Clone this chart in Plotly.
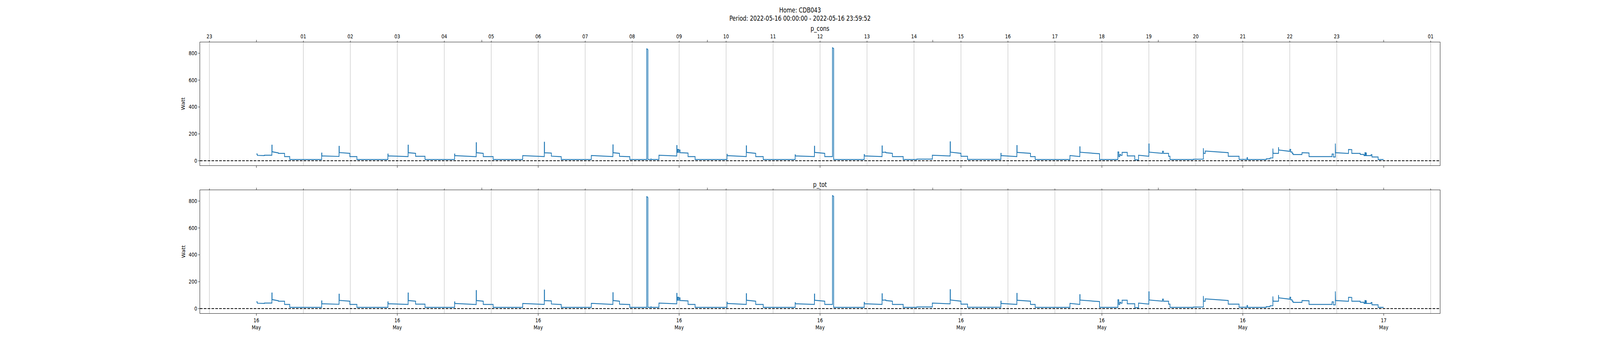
import pandas as pd
import plotly.graph_objects as go

# ---------------- data ----------------
day = "2022-05-16"
seg_hour = [0.000, 0.020, 0.170, 0.330, 0.335, 0.470, 0.600, 0.710, 1.390, 1.395,
            1.760, 1.765, 1.990, 2.140, 2.800, 2.805, 3.230, 3.235, 3.390, 3.590,
            4.220, 4.225, 4.680, 4.685, 4.830, 5.040, 5.670, 6.130, 6.135, 6.280,
            6.490, 7.130, 7.590, 7.595, 7.730, 7.950, 8.310, 8.335, 8.400, 8.405,
            8.570, 8.950, 8.955, 8.970, 8.990, 9.000, 9.020, 9.190, 9.340, 10.020,
            10.025, 10.430, 10.435, 10.630, 10.790, 11.470, 11.475, 11.880, 11.885, 12.100,
            12.265, 12.290, 12.940, 12.945, 13.320, 13.325, 13.400, 13.490, 13.540, 13.770,
            14.060, 14.390, 14.770, 14.775, 15.000, 15.140, 15.850, 15.855, 16.190, 16.195,
            16.480, 16.580, 17.320, 17.530, 17.535, 17.950, 18.340, 18.360, 18.380, 18.400,
            18.430, 18.540, 18.700, 18.780, 19.000, 19.005, 19.290, 19.310, 19.420, 19.450,
            19.950, 20.160, 20.165, 20.200, 20.690, 20.920, 21.090, 21.100, 21.500, 21.580,
            21.640, 21.645, 21.760, 21.765, 22.000, 22.020, 22.050, 22.070, 22.260, 22.410,
            22.900, 22.930, 22.970, 22.975, 23.250, 23.320, 23.500, 23.580, 23.600, 23.610,
            23.620, 23.630, 23.730, 23.750, 23.880]
seg_from = [50, 40, 41, 116, 67, 55, 31, 9, 57, 36,
            107, 61, 31, 9, 50, 36, 116, 60, 33, 9,
            50, 38, 134, 60, 31, 9, 38, 138, 59, 34,
            9, 39, 118, 60, 33, 9, 835, 9, 13, 9,
            41, 113, 62, 84, 62, 80, 60, 31, 9, 48,
            38, 111, 62, 31, 9, 44, 36, 108, 62, 31,
            841, 9, 46, 36, 110, 62, 60, 55, 31, 9,
            12, 41, 141, 64, 33, 10, 55, 38, 113, 62,
            31, 9, 39, 104, 63, 9, 65, 31, 46, 40,
            62, 36, 7, 41, 125, 64, 70, 55, 33, 9,
            11, 94, 55, 72, 33, 10, 23, 9, 14, 21,
            91, 55, 101, 80, 84, 65, 55, 46, 60, 31,
            50, 28, 128, 60, 84, 55, 47, 38, 60, 38,
            58, 38, 45, 28, 9]
seg_to = [50, 38, 41, 116, 58, 55, 31, 9, 57, 32,
          107, 55, 31, 9, 50, 31, 116, 55, 33, 9,
          50, 30, 134, 55, 31, 9, 31, 138, 57, 30,
          9, 31, 118, 55, 30, 9, 826, 9, 13, 9,
          35, 113, 62, 84, 62, 80, 57, 31, 9, 48,
          31, 111, 55, 31, 9, 44, 31, 108, 55, 31,
          835, 9, 46, 31, 110, 64, 57, 55, 31, 9,
          12, 35, 141, 55, 33, 10, 55, 31, 113, 55,
          31, 9, 31, 104, 52, 9, 65, 31, 46, 40,
          62, 36, 7, 33, 125, 55, 70, 55, 33, 9,
          12, 94, 55, 60, 33, 10, 23, 9, 14, 21,
          91, 55, 101, 70, 84, 65, 55, 46, 58, 31,
          50, 28, 128, 54, 83, 55, 47, 38, 60, 38,
          58, 38, 45, 28, 9]
end_hour = 23.9978  # 23:59:52

# p_tot is visually identical to p_cons in the reference
p_cons_from, p_cons_to = seg_from, seg_to
p_tot_from, p_tot_to = list(seg_from), list(seg_to)

bottom_tick_hours = [0, 3, 6, 9, 12, 15, 18, 21, 24]
bottom_tick_text = ["16<br>May"] * 8 + ["17<br>May"]
top_hour_ticks = [-1] + list(range(1, 24)) + [25]
top_hour_text = ["23"] + ["%02d" % h for h in range(1, 24)] + ["01"]
top_major_hours = [0, 4.8, 9.6, 14.4, 19.2, 24]

# ---------------- build ----------------
W, H = 5000, 900
base = pd.Timestamp(day)
def ts(h):
    return base + pd.to_timedelta(h, unit="h")

def build(froms, tos):
    xs, ys = [], []
    ends = seg_hour[1:] + [end_hour]
    for s, e, a, b in zip(seg_hour, ends, froms, tos):
        xs += [ts(s), ts(e)]
        ys += [a, b]
    return xs, ys

xr = [ts(-1.2), ts(end_hour + 1.2)]
FONT = "DejaVu Sans"
BLUE = "#1f77b4"

fig = go.Figure()
for i, (fr, to) in enumerate([(p_cons_from, p_cons_to), (p_tot_from, p_tot_to)]):
    xs, ys = build(fr, to)
    xa = "x" if i == 0 else "x3"
    ya = "y" if i == 0 else "y2"
    fig.add_trace(go.Scatter(x=xs, y=ys, mode="lines", line=dict(color=BLUE, width=2.2),
                             xaxis=xa, yaxis=ya, showlegend=False, hoverinfo="skip"))

tickfont = dict(family=FONT, size=14, color="black")
def bottom_axis(anchor, labels):
    return dict(domain=[0.125, 0.9], anchor=anchor, type="date", range=xr,
                tickmode="array", tickvals=[ts(h) for h in bottom_tick_hours],
                ticktext=bottom_tick_text if labels else [""] * len(bottom_tick_hours),
                ticks="outside", ticklen=5, tickwidth=1, tickcolor="black",
                showline=True, linecolor="black", linewidth=1, showgrid=False,
                zeroline=False, tickfont=tickfont)

def top_axis(over, anchor, labels):
    return dict(overlaying=over, side="top", anchor=anchor, type="date", range=xr,
                tickmode="array", tickvals=[ts(h) for h in top_hour_ticks],
                ticktext=top_hour_text if labels else [""] * len(top_hour_ticks),
                ticks="outside", ticklen=3, tickwidth=1, tickcolor="black",
                showline=True, linecolor="black", linewidth=1,
                showgrid=True, gridcolor="#b0b0b0", gridwidth=1,
                minor=dict(tickmode="array", tickvals=[ts(h) for h in top_major_hours],
                           ticks="outside", ticklen=5, tickwidth=1, tickcolor="black",
                           showgrid=False),
                zeroline=False, tickfont=tickfont)

def y_axis(domain, anchor):
    return dict(domain=domain, anchor=anchor, range=[-35, 882],
                tickmode="array", tickvals=[0, 200, 400, 600, 800],
                ticks="outside", ticklen=5, tickwidth=1, tickcolor="black",
                showline=True, mirror=True, linecolor="black", linewidth=1,
                showgrid=False, zeroline=False, tickfont=tickfont)

fig.update_layout(
    width=W, height=H, autosize=False, paper_bgcolor="white", plot_bgcolor="white",
    margin=dict(l=0, r=0, t=0, b=0),
    font=dict(family=FONT, color="black"),
    xaxis=bottom_axis("y", False),
    xaxis2=top_axis("x", "y", True),
    xaxis3=bottom_axis("y2", True),
    xaxis4=top_axis("x3", "y2", False),
    yaxis=y_axis([0.53, 0.88], "x"),
    yaxis2=y_axis([0.11, 0.46], "x3"),
)
fig.add_trace(go.Scatter(x=[xr[0]], y=[0], xaxis="x2", yaxis="y", mode="markers",
                         marker=dict(opacity=0), showlegend=False, hoverinfo="skip"))
fig.add_trace(go.Scatter(x=[xr[0]], y=[0], xaxis="x4", yaxis="y2", mode="markers",
                         marker=dict(opacity=0), showlegend=False, hoverinfo="skip"))

for xd, yr in [("x domain", "y"), ("x3 domain", "y2")]:
    fig.add_shape(type="line", xref=xd, yref=yr, x0=0, x1=1, y0=0, y1=0,
                  line=dict(color="black", width=2, dash="8px,4px"))

ann = [
    dict(text="Home: CDB043", x=0.5, y=1 - 26 / H),
    dict(text="Period: 2022-05-16 00:00:00 - 2022-05-16 23:59:52", x=0.5, y=1 - 47 / H),
    dict(text="p_cons", x=0.5125, y=1 - 73 / H),
    dict(text="p_tot", x=0.5125, y=1 - 472 / H),
]
for a in ann:
    fig.add_annotation(xref="paper", yref="paper", showarrow=False, xanchor="center",
                       yanchor="middle", font=dict(family=FONT, size=17, color="black"), **a)
for yc in [265.5, 643.5]:
    fig.add_annotation(text="Watt", xref="paper", yref="paper", x=573 / W, y=1 - yc / H,
                       textangle=-90, showarrow=False, xanchor="center", yanchor="middle",
                       font=dict(family=FONT, size=14, color="black"))

# fit the 5000x900 figure to whatever viewport the page gets
post = ("document.documentElement.style.margin='0';document.body.style.margin='0';"
        "document.documentElement.style.overflow='hidden';document.body.style.overflow='hidden';"
        "var gd=document.getElementById('{plot_id}');"
        "var sx=window.innerWidth/%d, sy=window.innerHeight/%d;"
        "gd.style.transformOrigin='0 0';gd.style.transform='scale('+sx+','+sy+')';" % (W, H))
fig.write_html("out.html", config={"displayModeBar": False}, post_script=post)
